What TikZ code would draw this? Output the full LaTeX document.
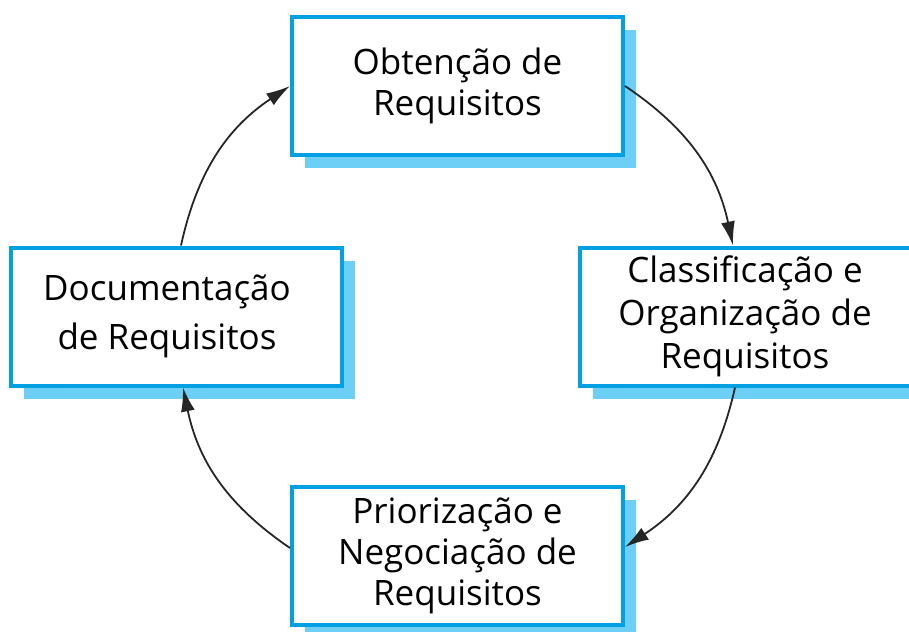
\documentclass[tikz,border=0pt]{standalone}
\usepackage{fontspec}
\setmainfont{Open Sans}
\usetikzlibrary{shadows,arrows.meta,calc}
\definecolor{boxblue}{RGB}{0,160,227}
\definecolor{shadowblue}{RGB}{109,207,246}
\begin{document}
\begin{tikzpicture}[x=0.5pt,y=-0.5pt,
  stepbox/.style={draw=boxblue, line width=2pt, fill=white, text=black,
    minimum width=165.5pt, minimum height=69pt, inner sep=0pt, align=center,
    font=\fontsize{17.5pt}{20.5pt}\selectfont,
    general shadow={fill=shadowblue, shadow xshift=6.5pt, shadow yshift=-6.5pt}},
  flow/.style={-{Latex[length=12pt,width=7pt]}, line width=0.9pt, black!85}]
\useasboundingbox (0,0) rectangle (909,631);
\clip (0,0) rectangle (909,631);
\node[stepbox] (top) at (457.5,86) {Obtenção de\\Requisitos};
\node[stepbox, font=\fontsize{17.5pt}{21.5pt}\selectfont] (right) at (745,316.5) {Classificação e\\Organização de\\Requisitos};
\node[stepbox] (bottom) at (457.5,556) {Priorização e\\Negociação de\\Requisitos};
\node[stepbox, font=\fontsize{17.5pt}{24.5pt}\selectfont] (left) at (176,316.5) {Documentação\hspace*{9pt}\\de Requisitos\hspace*{9pt}};
\draw[flow] (top.east) to[bend left=22] ($(right.north)+(-12,0)$);
\draw[flow] ($(right.south)+(-10,0)$) to[bend left=22] ($(bottom.east)+(0,-9)$);
\draw[flow] ($(bottom.west)+(0,-8)$) to[bend left=22] ($(left.south)+(7,0)$);
\draw[flow] ($(left.north)+(5,0)$) to[bend left=22] (top.west);
\end{tikzpicture}
\end{document}
